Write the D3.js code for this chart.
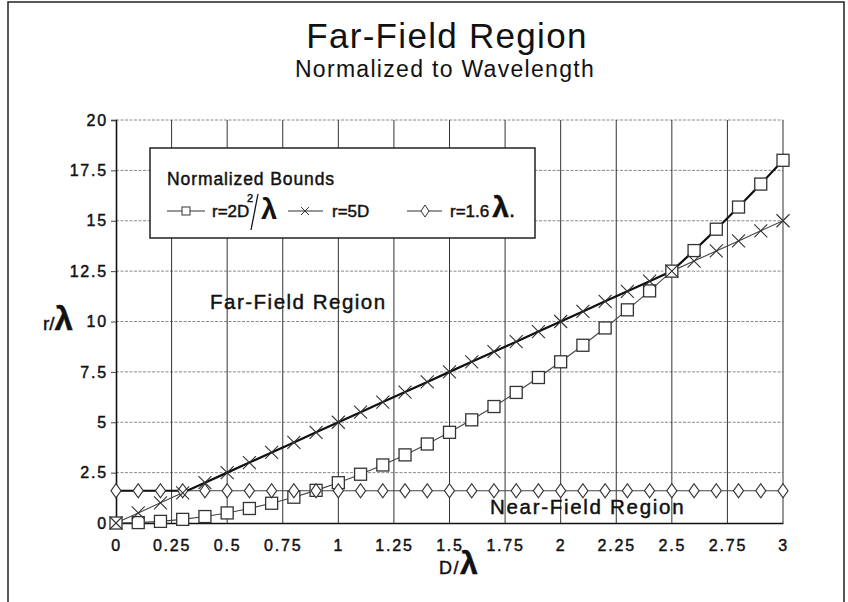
<!DOCTYPE html>
<html>
<head>
<meta charset="utf-8">
<script src="https://cdn.jsdelivr.net/npm/d3@7"></script>
<style>
  body { margin: 0; background: #fff; }
  text { font-family: "Liberation Sans", Arial, sans-serif; fill: #111; }
  .heavy { stroke: #111; stroke-width: 0.45px; }
</style>
</head>
<body>
<svg id="chart"></svg>
<script>
// D/lambda sample points (same for all three series)
var dValues = [0, 0.1, 0.2, 0.3, 0.4, 0.5, 0.6, 0.7, 0.8, 0.9, 1.0, 1.1, 1.2, 1.3, 1.4, 1.5,
  1.6, 1.7, 1.8, 1.9, 2.0, 2.1, 2.2, 2.3, 2.4, 2.5, 2.6, 2.7, 2.8, 2.9, 3.0];
// r = 2D^2/lambda
var farBound = [0, 0.02, 0.08, 0.18, 0.32, 0.5, 0.72, 0.98, 1.28, 1.62, 2, 2.42, 2.88, 3.38, 3.92, 4.5,
  5.12, 5.78, 6.48, 7.22, 8, 8.82, 9.68, 10.58, 11.52, 12.5, 13.52, 14.58, 15.68, 16.82, 18];
// r = 5D
var fiveD = [0, 0.5, 1, 1.5, 2, 2.5, 3, 3.5, 4, 4.5, 5, 5.5, 6, 6.5, 7, 7.5,
  8, 8.5, 9, 9.5, 10, 10.5, 11, 11.5, 12, 12.5, 13, 13.5, 14, 14.5, 15];
// r = 1.6 lambda
var nearBound = [1.6, 1.6, 1.6, 1.6, 1.6, 1.6, 1.6, 1.6, 1.6, 1.6, 1.6, 1.6, 1.6, 1.6, 1.6, 1.6,
  1.6, 1.6, 1.6, 1.6, 1.6, 1.6, 1.6, 1.6, 1.6, 1.6, 1.6, 1.6, 1.6, 1.6, 1.6];
// heavy boundary line (largest of the three bounds)
var boundD = [0, 0.32, 0.4, 0.5, 0.6, 0.7, 0.8, 0.9, 1.0, 1.1, 1.2, 1.3, 1.4, 1.5, 1.6, 1.7,
  1.8, 1.9, 2.0, 2.1, 2.2, 2.3, 2.4, 2.5, 2.6, 2.7, 2.8, 2.9, 3.0];
var boundR = [1.6, 1.6, 2, 2.5, 3, 3.5, 4, 4.5, 5, 5.5, 6, 6.5, 7, 7.5, 8, 8.5,
  9, 9.5, 10, 10.5, 11, 11.5, 12, 12.5, 13.52, 14.58, 15.68, 16.82, 18];

var xTicks = [0, 0.25, 0.5, 0.75, 1, 1.25, 1.5, 1.75, 2, 2.25, 2.5, 2.75, 3];
var yTicks = [0, 2.5, 5, 7.5, 10, 12.5, 15, 17.5, 20];

var width = 848, height = 602;
var svg = d3.select("#chart").attr("width", width).attr("height", height);

// page frame
svg.append("path")
  .attr("d", "M8,602 V2 H844 V602")
  .attr("fill", "none")
  .attr("stroke", "#222")
  .attr("stroke-width", 1.5);

var xscale = d3.scaleLinear().domain([0, 3]).range([116, 783]);
var yscale = d3.scaleLinear().domain([0, 20]).range([523, 120]);

// titles
svg.append("text")
  .attr("x", 447).attr("y", 48)
  .attr("text-anchor", "middle")
  .style("font-size", "35px")
  .style("letter-spacing", "1.3px")
  .text("Far-Field Region");
svg.append("text")
  .attr("x", 445).attr("y", 77)
  .attr("text-anchor", "middle")
  .style("font-size", "23px")
  .style("letter-spacing", "1.3px")
  .text("Normalized to Wavelength");

// horizontal dotted grid
svg.append("g")
  .selectAll("line")
  .data(yTicks.slice(1))
  .enter()
  .append("line")
  .attr("x1", xscale(0)).attr("x2", xscale(3))
  .attr("y1", function (d) { return yscale(d); })
  .attr("y2", function (d) { return yscale(d); })
  .attr("stroke", "#888")
  .attr("stroke-width", 1)
  .attr("stroke-dasharray", "3,1.5");

// vertical solid grid
svg.append("g")
  .selectAll("line")
  .data(xTicks.slice(1))
  .enter()
  .append("line")
  .attr("x1", function (d) { return xscale(d); })
  .attr("x2", function (d) { return xscale(d); })
  .attr("y1", yscale(0)).attr("y2", yscale(20))
  .attr("stroke", "#333")
  .attr("stroke-width", 1);

// axes
var xaxis = d3.axisBottom(xscale).tickValues(xTicks).tickSize(0).tickPadding(17)
  .tickFormat(function (d) { return d3.format("")(d); });
var gx = svg.append("g")
  .attr("transform", "translate(0," + yscale(0) + ")")
  .call(xaxis);
gx.select(".domain").attr("stroke", "#111").attr("stroke-width", 1.6);
gx.selectAll("text")
  .attr("class", "heavy")
  .style("font-size", "16px")
  .style("letter-spacing", "1.8px")
  .attr("fill", "#111");

var yaxis = d3.axisLeft(yscale).tickValues(yTicks).tickSize(5).tickPadding(3)
  .tickFormat(function (d) { return d3.format("")(d); });
var gy = svg.append("g")
  .attr("transform", "translate(" + xscale(0) + ",0)")
  .call(yaxis);
gy.select(".domain").attr("stroke", "#111").attr("stroke-width", 1.6);
gy.selectAll(".tick line").attr("stroke", "#444");
gy.selectAll("text")
  .attr("class", "heavy")
  .style("font-size", "16px")
  .style("letter-spacing", "1.8px")
  .attr("fill", "#111");

// axis titles
var yl = svg.append("text")
  .attr("class", "heavy")
  .attr("x", 43).attr("y", 330)
  .style("font-size", "19px");
yl.append("tspan").text("r/");
yl.append("tspan").style("font-size", "33px").style("font-weight", "bold").text("λ");

var xl = svg.append("text")
  .attr("class", "heavy")
  .attr("x", 439).attr("y", 574)
  .style("font-size", "18px")
  .style("letter-spacing", "1.5px");
xl.append("tspan").text("D/");
xl.append("tspan").style("font-size", "32px").style("font-weight", "bold").text("λ");

// region labels
svg.append("text")
  .attr("class", "heavy")
  .attr("x", 210).attr("y", 309)
  .style("font-size", "20.5px")
  .style("letter-spacing", "1.5px")
  .text("Far-Field Region");
svg.append("text")
  .attr("class", "heavy")
  .attr("x", 490).attr("y", 514)
  .style("font-size", "20.5px")
  .style("letter-spacing", "1.7px")
  .text("Near-Field Region");

var line = d3.line()
  .x(function (d) { return xscale(d[0]); })
  .y(function (d) { return yscale(d[1]); });

function pairs(xs, ys) {
  return xs.map(function (x, i) { return [x, ys[i]]; });
}

// thin series lines
[farBound, fiveD, nearBound].forEach(function (s) {
  svg.append("path")
    .attr("fill", "none")
    .attr("stroke", "#444")
    .attr("stroke-width", 1.1)
    .attr("d", line(pairs(dValues, s)));
});

// heavy boundary
svg.append("path")
  .attr("fill", "none")
  .attr("stroke", "#111")
  .attr("stroke-width", 2.2)
  .attr("d", line(pairs(boundD, boundR)));

// markers
var sq = 12;
svg.append("g")
  .selectAll("rect")
  .data(pairs(dValues, farBound))
  .enter()
  .append("rect")
  .attr("x", function (d) { return xscale(d[0]) - sq / 2; })
  .attr("y", function (d) { return yscale(d[1]) - sq / 2; })
  .attr("width", sq).attr("height", sq)
  .attr("fill", "#fff")
  .attr("stroke", "#333")
  .attr("stroke-width", 1.3);

svg.append("g")
  .selectAll("path")
  .data(pairs(dValues, nearBound))
  .enter()
  .append("path")
  .attr("d", function (d) {
    var x = xscale(d[0]), y = yscale(d[1]);
    return "M" + x + "," + (y - 7) + "L" + (x + 5) + "," + y + "L" + x + "," + (y + 7) + "L" + (x - 5) + "," + y + "Z";
  })
  .attr("fill", "#fff")
  .attr("stroke", "#333")
  .attr("stroke-width", 1.2);

svg.append("g")
  .selectAll("path")
  .data(pairs(dValues, fiveD))
  .enter()
  .append("path")
  .attr("d", function (d) {
    var x = xscale(d[0]), y = yscale(d[1]), s = 6.5;
    return "M" + (x - s) + "," + (y - s) + "L" + (x + s) + "," + (y + s) +
      "M" + (x - s) + "," + (y + s) + "L" + (x + s) + "," + (y - s);
  })
  .attr("stroke", "#333")
  .attr("stroke-width", 1.1);

// legend
var lg = svg.append("g");
lg.append("rect")
  .attr("x", 150).attr("y", 148)
  .attr("width", 385).attr("height", 90)
  .attr("fill", "#fff")
  .attr("stroke", "#222")
  .attr("stroke-width", 1.5);
lg.append("text")
  .attr("class", "heavy")
  .attr("x", 167).attr("y", 185)
  .style("font-size", "17.5px")
  .style("letter-spacing", "0.9px")
  .text("Normalized Bounds");

var rowY = 211;
// square entry
lg.append("line").attr("x1", 167).attr("x2", 205).attr("y1", rowY).attr("y2", rowY)
  .attr("stroke", "#333");
lg.append("rect").attr("x", 182).attr("y", rowY - 4).attr("width", 8).attr("height", 8)
  .attr("fill", "#fff").attr("stroke", "#333");
lg.append("text").attr("class", "heavy").attr("x", 212).attr("y", rowY + 6)
  .style("font-size", "17px").text("r=2D");
lg.append("text").attr("class", "heavy").attr("x", 247).attr("y", rowY - 9)
  .style("font-size", "11px").text("2");
// fraction slash
lg.append("line")
  .attr("x1", 251).attr("y1", rowY + 19)
  .attr("x2", 258).attr("y2", rowY - 17)
  .attr("stroke", "#111").attr("stroke-width", 1.3);
lg.append("text").attr("x", 261).attr("y", rowY + 8)
  .style("font-size", "29px").style("font-weight", "bold").text("λ");

// x entry
lg.append("line").attr("x1", 288).attr("x2", 323).attr("y1", rowY).attr("y2", rowY)
  .attr("stroke", "#333");
lg.append("path")
  .attr("d", "M301," + (rowY - 4) + "L309," + (rowY + 4) + "M301," + (rowY + 4) + "L309," + (rowY - 4))
  .attr("stroke", "#333");
lg.append("text").attr("class", "heavy").attr("x", 332).attr("y", rowY + 6)
  .style("font-size", "17px")
  .text("r=5D");

// diamond entry
lg.append("line").attr("x1", 407).attr("x2", 442).attr("y1", rowY).attr("y2", rowY)
  .attr("stroke", "#333");
lg.append("path")
  .attr("d", "M425," + (rowY - 6) + "L429," + rowY + "L425," + (rowY + 6) + "L421," + rowY + "Z")
  .attr("fill", "#fff").attr("stroke", "#333");
var t3 = lg.append("text").attr("class", "heavy").attr("x", 450).attr("y", rowY + 6)
  .style("font-size", "17px");
t3.append("tspan").text("r=1.6");
t3.append("tspan").attr("dx", 3).style("font-size", "30px").style("font-weight", "bold").text("λ");
t3.append("tspan").style("font-size", "22px").text(".");
</script>
</body>
</html>
